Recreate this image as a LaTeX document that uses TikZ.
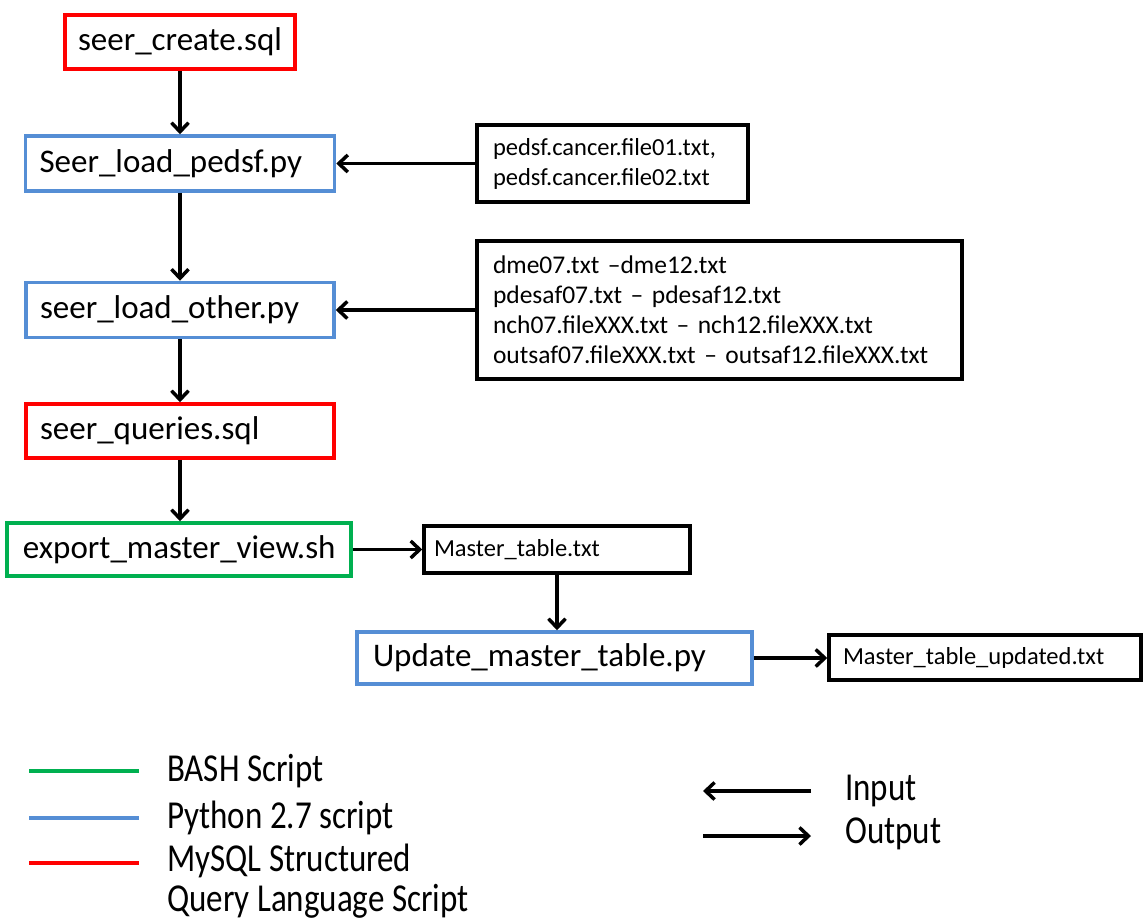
\documentclass[tikz,border=0pt]{standalone}
\usepackage{fontspec}
\setmainfont{Carlito}
\usetikzlibrary{arrows.meta}
\definecolor{sqlred}{RGB}{255,0,0}
\definecolor{pyblue}{RGB}{85,142,213}
\definecolor{shgreen}{RGB}{0,176,80}
\begin{document}
\begin{tikzpicture}[x=1pt,y=-1pt,
  box/.style={draw, line width=3.5pt, fill=white, align=left, inner ysep=0pt,
    font=\fontsize{33}{38}\selectfont},
  filebox/.style={draw=black, line width=3.5pt, fill=white, align=left, inner ysep=0pt,
    font=\fontsize{24.5}{30}\selectfont},
  arr/.style={line width=3.5pt, -{Straight Barb[length=9pt,width=17pt]}},
  legline/.style={line width=4.5pt},
  legtext/.style={anchor=west, inner sep=0pt, font=\fontsize{33}{38}\selectfont}
]
\useasboundingbox (0,0) rectangle (1144,919);

% main chain
\node[box, draw=sqlred, text width=204pt, inner xsep=13pt, minimum height=54pt] (create) at (180,42) {seer\_create.sql};
\node[box, draw=pyblue, text width=281pt, inner xsep=14pt, minimum height=55pt] (pedsf) at (180,163.5) {Seer\_load\_pedsf.py};
\node[box, draw=pyblue, text width=280pt, inner xsep=14pt, minimum height=55pt] (other) at (180,310) {seer\_load\_other.py};
\node[box, draw=sqlred, text width=280pt, inner xsep=14pt, minimum height=54pt] (queries) at (180,431) {seer\_queries.sql};
\node[box, draw=shgreen, text width=312pt, inner xsep=16pt, minimum height=53pt] (export) at (179,549.5) {export\_master\_view.sh};
\node[box, draw=pyblue, text width=363pt, inner xsep=16pt, minimum height=52pt] (update) at (554.5,658) {Update\_master\_table.py};

% files
\node[filebox, text width=239pt, inner xsep=16pt, minimum height=77pt] (pedsfin) at (612.5,163.5)
  {pedsf.cancer.file01.txt,\\pedsf.cancer.file02.txt};
\node[filebox, font=\fontsize{25.5}{30}\selectfont, text width=453pt, inner xsep=16pt, minimum height=138pt] (otherin) at (719.5,310)
  {dme07.txt --dme12.txt\\pdesaf07.txt -- pdesaf12.txt\\nch07.fileXXX.txt -- nch12.fileXXX.txt\\outsaf07.fileXXX.txt -- outsaf12.fileXXX.txt};
\node[filebox, text width=246pt, inner xsep=10pt, minimum height=47pt] (mt) at (557,549.5) {Master\_table.txt};
\node[filebox, text width=284pt, inner xsep=14pt, minimum height=45pt] (mtu) at (985,657.5) {Master\_table\_updated.txt};

% connectors
\draw[arr] (create.south) -- (create.south |- pedsf.north);
\draw[arr] (pedsf.south) -- (pedsf.south |- other.north);
\draw[arr] (other.south) -- (other.south |- queries.north);
\draw[arr] (queries.south) -- (queries.south |- export.north);
\draw[arr] (pedsfin.west) -- (pedsf.east);
\draw[arr] (otherin.west) -- (other.east);
\draw[arr] (export.east) -- (export.east -| mt.west);
\draw[arr] (mt.south) -- (mt.south |- update.north);
\draw[arr] (update.east) -- (update.east -| mtu.west);

% legend
\draw[legline, shgreen] (29,771) -- (139,771);
\draw[legline, pyblue] (29,818) -- (139,818);
\draw[legline, sqlred] (29,863) -- (139,863);
\node[legtext] (lbash) at (167,771) {\scalebox{1}[1.2]{BASH Script}};
\node[legtext] (lpy) at (167,818) {\scalebox{1}[1.2]{Python 2.7 script}};
\node[legtext] (lsql1) at (167,861) {\scalebox{1}[1.2]{MySQL Structured}};
\node[legtext] (lsql2) at (167,901) {\scalebox{1}[1.2]{Query Language Script}};

\draw[arr] (811,791) -- (703,791);
\draw[arr] (703,836) -- (811,836);
\node[legtext] (lin) at (845,791) {\scalebox{1}[1.2]{Input}};
\node[legtext] (lout) at (845,834) {\scalebox{1}[1.2]{Output}};
\end{tikzpicture}
\end{document}
